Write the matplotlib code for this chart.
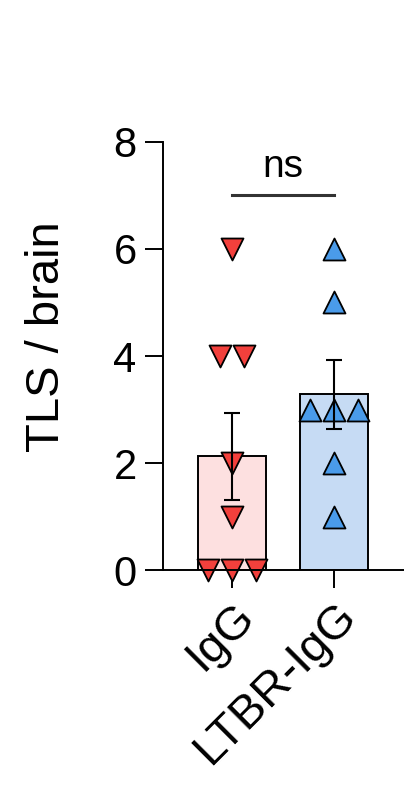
import numpy as np
import matplotlib
matplotlib.use("Agg")
import matplotlib.pyplot as plt

plt.rcParams['font.family'] = ['Liberation Sans', 'DejaVu Sans']

groups = ["IgG", "LTBR-IgG"]
igg_vals = [6, 4, 4, 2, 1, 0, 0, 0]
ltbr_vals = [6, 5, 3, 3, 3, 2, 1]
sig_label = "ns"
sig_height = 7
y_ticks = [0, 2, 4, 6, 8]

bar_colors = ["#fde0e0", "#c6dbf4"]
marker_colors = ["#f2403c", "#4a9bea"]
markers = ["v", "^"]


def spread(vals, step=0.235):
    # spread repeated values sideways, like a prism scatter
    vals = np.asarray(vals, dtype=float)
    offs = np.zeros_like(vals)
    for v in np.unique(vals):
        idx = np.where(vals == v)[0]
        n = len(idx)
        offs[idx] = (np.arange(n) - (n - 1) / 2) * step
    return offs


fig = plt.figure(figsize=(4.04, 7.95), dpi=100)
ax = fig.add_axes([0.4035, 0.283, 0.5965, 0.5384])

for i, vals in enumerate([igg_vals, ltbr_vals]):
    vals = np.asarray(vals, dtype=float)
    mean = vals.mean()
    sem = vals.std(ddof=1) / np.sqrt(len(vals))
    ax.bar(i, mean, width=0.66, color=bar_colors[i], edgecolor="black",
           linewidth=1.4, zorder=1)
    ax.scatter(i + spread(vals), vals, marker=markers[i], s=250,
               color=marker_colors[i], edgecolor="black", linewidth=1.3,
               zorder=2, clip_on=False)
    ax.errorbar(i, mean, yerr=sem, color="black", capsize=6, capthick=1.5,
                elinewidth=1.5, zorder=3)

ax.plot([0, 1], [sig_height, sig_height], color="#333333", lw=2.2)
ax.text(0.5, sig_height + 0.2, sig_label, ha="center", va="bottom", fontsize=28)

ax.set_xlim(-0.676, 1.686)
ax.set_ylim(0, 8)
ax.set_yticks(y_ticks)
ax.set_xticks([0, 1])
ax.tick_params(axis="both", length=13, width=1.4, labelsize=30, pad=6)
ax.tick_params(axis="x", pad=4, labelsize=34)
ax.set_xticklabels(groups, rotation=45, ha="right", rotation_mode="anchor")
ax.set_ylabel("TLS / brain", fontsize=34)
ax.yaxis.set_label_coords(-0.39, 0.545)

ax.spines["top"].set_visible(False)
ax.spines["right"].set_visible(False)
ax.spines["left"].set_linewidth(1.4)
ax.spines["bottom"].set_linewidth(1.4)

fig.savefig("out.png", dpi=100)
